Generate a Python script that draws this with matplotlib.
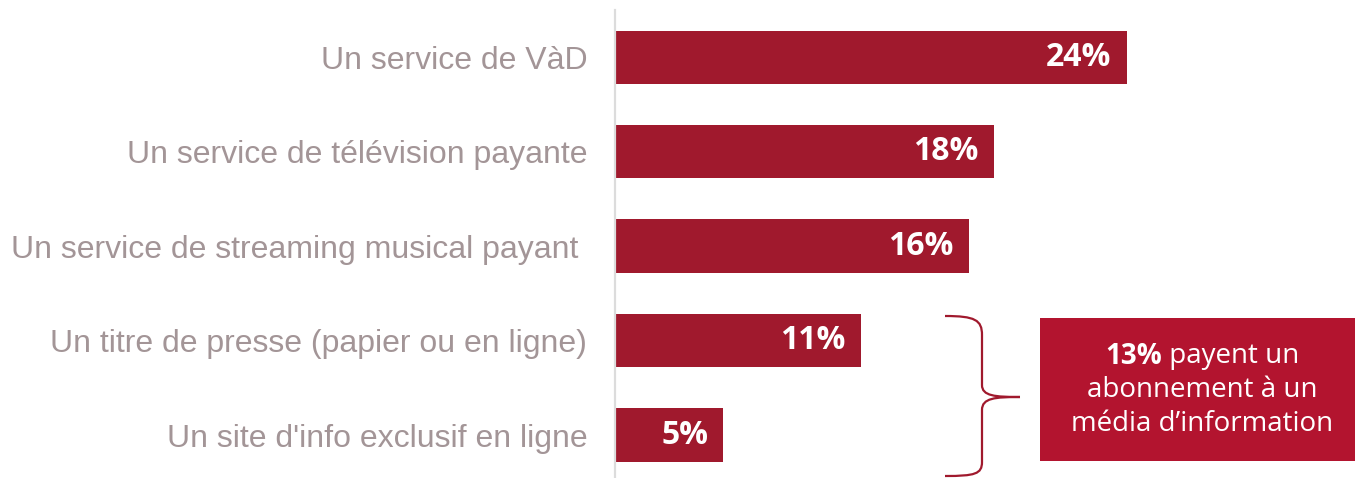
import matplotlib
matplotlib.use("Agg")
import matplotlib.pyplot as plt
from matplotlib.path import Path
from matplotlib.patches import PathPatch, Rectangle
from matplotlib.transforms import Affine2D

categories = [
    "Un service de VàD",
    "Un service de télévision payante",
    "Un service de streaming musical payant ",
    "Un titre de presse (papier ou en ligne)",
    "Un site d'info exclusif en ligne",
]
values = [23.8, 17.6, 16.45, 11.4, 5.0]
value_labels = ["24%", "18%", "16%", "11%", "5%"]
callout_bold = "13%"
callout_lines = [" payent un", "abonnement à un", "média d’information"]

BAR = "#A0192D"
BOX = "#B3142F"
LABEL = "#A39597"

W, H = 1355, 478
fig = plt.figure(figsize=(W / 100, H / 100), dpi=100)

def fx(px):
    return px / W

def fy(py):
    return 1 - py / H

ax_left, ax_right, ax_top, ax_bot = 615, 1355, 10, 478
ax = fig.add_axes([fx(ax_left), fy(ax_bot), fx(ax_right - ax_left), (ax_bot - ax_top) / H])
ax.set_facecolor("none")
pos = list(range(len(categories)))
ax.barh(pos, values, height=0.565, color=BAR, left=0.05)
ax.set_ylim(4.455, -0.5)
ax.set_xlim(0, (ax_right - ax_left) / 21.45)
for s in ["top", "right", "bottom"]:
    ax.spines[s].set_visible(False)
ax.spines["left"].set_color("#DCDCDC")
ax.spines["left"].set_linewidth(1.6)
ax.set_xticks([])
ax.set_yticks(pos)
ax.set_yticklabels(categories, fontsize=23.0, color=LABEL, family="Liberation Sans")
ax.tick_params(axis="y", length=0, pad=20)

for p, v, lab in zip(pos, values, value_labels):
    ax.annotate(lab, xy=(v + 0.05, p), xytext=(-11, 0), textcoords="offset points",
                ha="right", va="center", color="white", fontsize=23,
                fontweight="bold", family="Open Sans")

# bracket (in figure pixel coords)
to_fig = Affine2D().scale(1 / W, -1 / H).translate(0, 1) + fig.transFigure
verts = [
    (945, 316), (975, 316), (982, 320), (982, 335),
    (982, 385),
    (982, 396), (995, 397), (1020, 397),
    (995, 397), (982, 398), (982, 410),
    (982, 462),
    (982, 474), (975, 476), (945, 476),
]
codes = [Path.MOVETO, Path.CURVE4, Path.CURVE4, Path.CURVE4,
         Path.LINETO,
         Path.CURVE4, Path.CURVE4, Path.CURVE4,
         Path.CURVE4, Path.CURVE4, Path.CURVE4,
         Path.LINETO,
         Path.CURVE4, Path.CURVE4, Path.CURVE4]
fig.patches.append(PathPatch(Path(verts, codes), transform=to_fig, fill=False,
                             edgecolor=BAR, linewidth=1.6))

# callout box
fig.patches.append(Rectangle((fx(1040), fy(461)), fx(1355 - 1040), (461 - 318) / H,
                             transform=fig.transFigure, facecolor=BOX, edgecolor="none"))

cx = 1202
fs = 20
fig.canvas.draw()
r = fig.canvas.get_renderer()
t_b = fig.text(0, fy(356), callout_bold, fontsize=fs, fontweight="bold", color="white",
               family="Open Sans", va="center", ha="left")
t_r = fig.text(0, fy(356), callout_lines[0], fontsize=fs, color="white",
               family="Open Sans", va="center", ha="left")
wb = t_b.get_window_extent(r).width
wr = t_r.get_window_extent(r).width
start = cx - (wb + wr) / 2
t_b.set_x(fx(start))
t_r.set_x(fx(start + wb))
fig.text(fx(cx), fy(390), callout_lines[1], fontsize=fs, color="white",
         family="Open Sans", va="center", ha="center")
fig.text(fx(cx), fy(424), callout_lines[2], fontsize=fs, color="white",
         family="Open Sans", va="center", ha="center")

fig.savefig("out.png", dpi=100)
